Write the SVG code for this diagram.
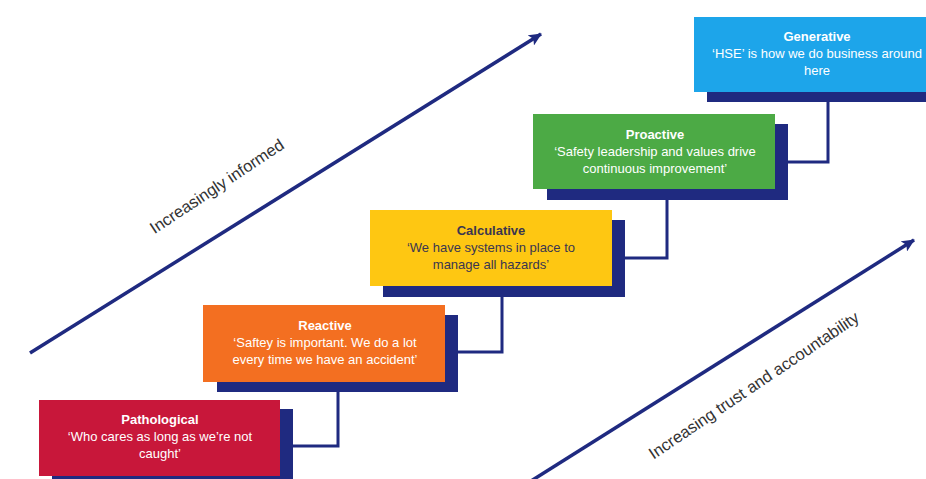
<svg xmlns="http://www.w3.org/2000/svg" width="926" height="479" viewBox="0 0 926 479">
<defs>
<marker id="ah" markerWidth="14" markerHeight="12" refX="12" refY="6" orient="auto" markerUnits="userSpaceOnUse">
<path d="M0,0 L13,6 L0,12 L3,6 Z" fill="#1f2a80"/>
</marker>
</defs>
<style>
.sh{fill:#1f2a80}
.t{font-family:"Liberation Sans",Arial,sans-serif;font-size:13px;text-anchor:middle}
.b{font-weight:bold}
.w{fill:#ffffff}
.d{fill:#3a3650}
.con{fill:none;stroke:#1f2a80;stroke-width:3}
.lab{font-family:"Liberation Sans",Arial,sans-serif;font-size:16.5px;fill:#333333}
</style>
<rect width="926" height="479" fill="#ffffff"/>
<g id="connectors">
<path class="con" d="M293,446 H338 V392"/>
<path class="con" d="M458,352 H502 V297"/>
<path class="con" d="M625,258 H667 V200"/>
<path class="con" d="M788,162 H828 V102"/>
<line x1="30" y1="353" x2="541" y2="34" stroke="#1f2a80" stroke-width="3.5" marker-end="url(#ah)"/>
<line x1="531" y1="481" x2="914" y2="240" stroke="#1f2a80" stroke-width="3.5" marker-end="url(#ah)"/>
</g>
<g id="label-informed">
<text class="lab" transform="translate(220,191) rotate(-33.5)" text-anchor="middle">Increasingly informed</text>
</g>
<g id="label-trust">
<text class="lab" transform="translate(757,390) rotate(-34)" text-anchor="middle">Increasing trust and accountability</text>
</g>
<g id="pathological">
<rect class="sh" x="52" y="409" width="241" height="72"/>
<rect x="39" y="400" width="241" height="76" fill="#c8173a"/>
<text class="t w b" x="160" y="424">Pathological</text>
<text class="t w" x="160" y="441">‘Who cares as long as we’re not</text>
<text class="t w" x="160" y="458">caught’</text>
</g>
<g id="reactive">
<rect class="sh" x="217" y="315" width="241" height="77"/>
<rect x="203" y="305" width="242" height="77" fill="#f36f21"/>
<text class="t w b" x="325" y="330">Reactive</text>
<text class="t w" x="325" y="347">‘Saftey is important. We do a lot</text>
<text class="t w" x="325" y="364">every time we have an accident’</text>
</g>
<g id="calculative">
<rect class="sh" x="383" y="220" width="242" height="77"/>
<rect x="370" y="210" width="242" height="76" fill="#fec712"/>
<text class="t d b" x="491" y="235">Calculative</text>
<text class="t d" x="491" y="252">‘We have systems in place to</text>
<text class="t d" x="491" y="269">manage all hazards’</text>
</g>
<g id="proactive">
<rect class="sh" x="547" y="124" width="241" height="76"/>
<rect x="533" y="114" width="242" height="75" fill="#4caa45"/>
<text class="t w b" x="655" y="139">Proactive</text>
<text class="t w" x="655" y="156">‘Safety leadership and values drive</text>
<text class="t w" x="655" y="173">continuous improvement’</text>
</g>
<g id="generative">
<rect class="sh" x="707" y="27" width="230" height="75"/>
<rect x="694" y="17" width="242" height="75" fill="#1da5ea"/>
<text class="t w b" x="817" y="41">Generative</text>
<text class="t w" x="817" y="58">‘HSE’ is how we do business around</text>
<text class="t w" x="817" y="75">here</text>
</g>
</svg>
